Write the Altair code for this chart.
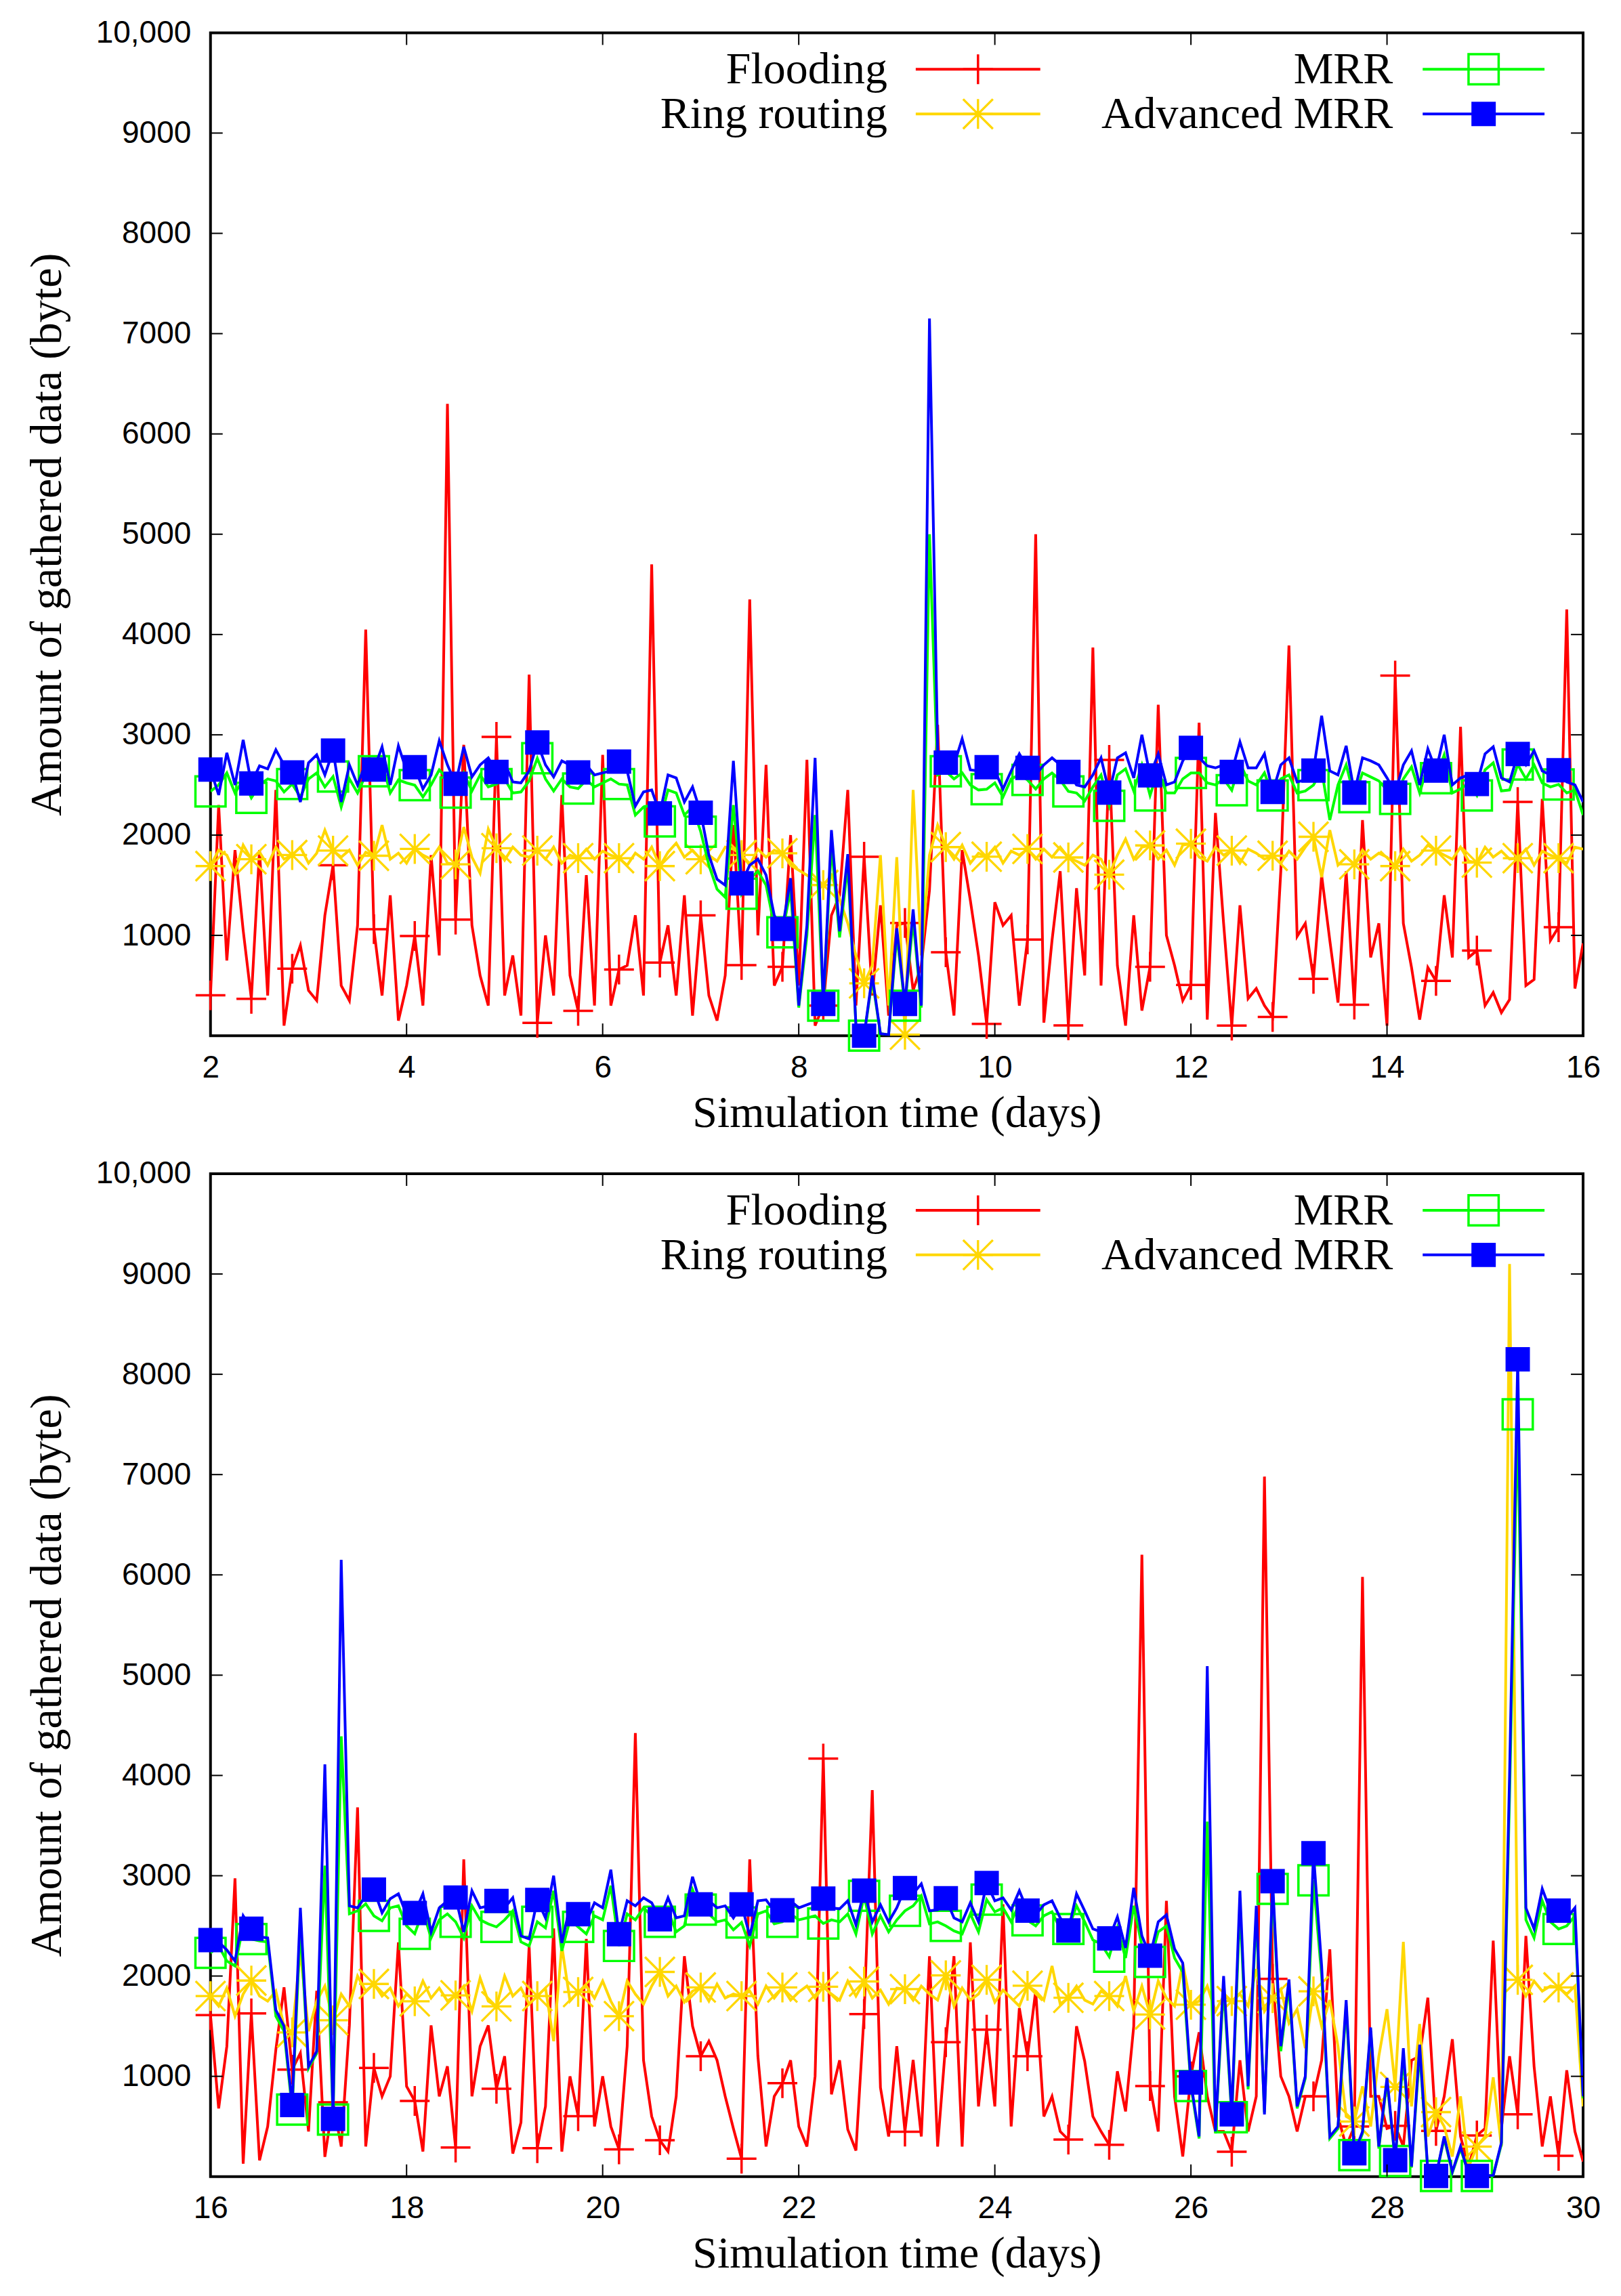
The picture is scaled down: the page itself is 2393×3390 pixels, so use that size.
import altair as alt
import pandas as pd

STEP_HOURS = 2      # sampling interval of the traces (hours)
MARK_EVERY = 5      # a marker on every 5th sample (every 10 hours)

SERIES = ["Flooding", "Ring routing", "MRR", "Advanced MRR"]
COLORS = ["#ff0000", "#ffd700", "#00ff00", "#0000ff"]

# ---------------- top panel: days 2 - 16 ----------------
top_flooding = [
    402, 2300, 750, 1850, 1050, 368, 1850, 400, 2450, 100,
    667, 900, 450, 350, 1200, 1700, 500, 350, 1100, 4050,
    1062, 400, 1400, 150, 500, 993, 300, 1800, 800, 6300,
    1158, 2900, 1100, 600, 300, 2979, 400, 800, 200, 3600,
    127, 1000, 400, 2400, 600, 247, 1600, 300, 2800, 300,
    660, 700, 1200, 400, 4700, 728, 1100, 400, 1400, 200,
    1199, 400, 150, 600, 2100, 704, 4350, 1000, 2700, 500,
    687, 2000, 500, 2750, 100, 300, 1200, 1400, 2450, 300,
    1784, 400, 1300, 200, 1100, 1124, 450, 700, 1450, 3100,
    832, 200, 1850, 1350, 800, 117, 1330, 1100, 1200, 300,
    959, 5000, 130, 950, 1640, 103, 1470, 600, 3870, 500,
    2749, 700, 100, 1200, 250, 687, 3300, 1000, 700, 350,
    505, 3120, 160, 2220, 1120, 100, 1300, 370, 470, 300,
    186, 1640, 3890, 990, 1120, 567, 1600, 950, 330, 1640,
    309, 2150, 780, 1120, 100, 3591, 1120, 680, 160, 680,
    546, 1400, 780, 3080, 780, 849, 300, 430, 230, 360,
    2330, 500, 560, 2360, 950, 1082, 4250, 470, 920,
]
top_ring = [
    1691, 1850, 1800, 1620, 1900, 1759, 1830, 1700, 1880, 1760,
    1801, 1880, 1720, 1820, 2050, 1845, 1780, 1850, 1700, 1830,
    1794, 2100, 1760, 1820, 1720, 1862, 1800, 1760, 1880, 1720,
    1708, 2080, 1780, 1620, 2060, 1869, 1750, 1880, 1800, 1780,
    1845, 1760, 1880, 1720, 1800, 1770, 1860, 1760, 1840, 1800,
    1770, 1700, 1820, 1760, 1880, 1691, 1830, 1920, 1780, 1850,
    1759, 1800, 1740, 1880, 1860, 1801, 1700, 1860, 1780, 1850,
    1818, 1700, 1650, 1600, 1550, 1502, 1600, 1360, 1120, 800,
    522, 700, 1800, 300, 1780, 10, 2450, 800, 1800, 2100,
    1880, 1760, 1900, 1720, 1820, 1784, 1880, 1720, 1840, 1800,
    1862, 1760, 1860, 1780, 1880, 1777, 1740, 1700, 1800, 1760,
    1605, 1800, 1960, 1760, 1880, 1897, 1760, 1850, 1700, 1900,
    1914, 1780, 1740, 1880, 1800, 1845, 1720, 1860, 1820, 1760,
    1794, 1720, 1840, 1760, 1880, 1983, 1580, 2050, 1700, 1780,
    1708, 1850, 1760, 1820, 1780, 1691, 1860, 1740, 1800, 1900,
    1845, 1800, 1760, 1880, 1740, 1725, 1880, 1780, 1840, 1760,
    1770, 1860, 1700, 1840, 1800, 1770, 1720, 1880, 1860,
]
top_mrr = [
    2436, 2500, 2620, 2420, 2550, 2371, 2500, 2560, 2540, 2430,
    2509, 2380, 2560, 2620, 2480, 2584, 2280, 2560, 2420, 2600,
    2636, 2720, 2420, 2550, 2520, 2498, 2380, 2500, 2650, 2560,
    2423, 2620, 2440, 2600, 2480, 2509, 2560, 2420, 2430, 2540,
    2766, 2560, 2440, 2560, 2480, 2464, 2550, 2480, 2520, 2560,
    2509, 2500, 2200, 2280, 2300, 2137, 2450, 2420, 2200, 2280,
    2034, 1700, 1460, 1380, 2300, 1416, 1560, 1640, 1500, 1100,
    1031, 1450, 280, 1000, 2200, 299, 1900, 980, 1700, 100,
    0, 560, 20, 10, 1000, 299, 1150, 280, 5000, 2600,
    2636, 2560, 2620, 2500, 2450, 2457, 2520, 2380, 2560, 2600,
    2550, 2460, 2560, 2620, 2550, 2436, 2420, 2340, 2480, 2600,
    2292, 2600, 2660, 2440, 2700, 2395, 2650, 2420, 2420, 2560,
    2619, 2620, 2520, 2500, 2560, 2447, 2720, 2540, 2500, 2620,
    2395, 2560, 2600, 2420, 2440, 2498, 2650, 2150, 2500, 2700,
    2378, 2620, 2580, 2540, 2450, 2361, 2560, 2680, 2420, 2700,
    2567, 2800, 2420, 2460, 2520, 2395, 2650, 2720, 2440, 2450,
    2704, 2560, 2700, 2520, 2480, 2505, 2420, 2450, 2200,
]
top_adv = [
    2653, 2400, 2820, 2500, 2950, 2515, 2690, 2660, 2850, 2700,
    2625, 2330, 2720, 2800, 2600, 2842, 2330, 2700, 2500, 2720,
    2653, 2880, 2500, 2890, 2640, 2677, 2460, 2600, 2940, 2700,
    2512, 2880, 2580, 2700, 2770, 2629, 2720, 2530, 2520, 2640,
    2924, 2700, 2580, 2740, 2700, 2625, 2700, 2600, 2620, 2640,
    2732, 2640, 2290, 2430, 2450, 2216, 2600, 2570, 2330, 2480,
    2223, 1800, 1560, 1500, 2740, 1519, 1700, 1760, 1600, 1200,
    1065, 1570, 300, 1100, 2770, 316, 2050, 1040, 1810, 100,
    0, 600, 20, 10, 1070, 316, 1260, 300, 7150, 2840,
    2722, 2700, 2960, 2650, 2640, 2677, 2640, 2460, 2640, 2810,
    2670, 2600, 2700, 2770, 2700, 2629, 2500, 2480, 2600, 2770,
    2423, 2770, 2820, 2570, 3000, 2595, 2810, 2500, 2530, 2740,
    2869, 2770, 2690, 2670, 2700, 2629, 2930, 2670, 2670, 2810,
    2430, 2700, 2770, 2530, 2550, 2643, 3190, 2640, 2600, 2890,
    2423, 2770, 2740, 2700, 2570, 2423, 2700, 2840, 2500, 2860,
    2643, 3000, 2500, 2570, 2600, 2509, 2810, 2880, 2570, 2530,
    2808, 2700, 2840, 2640, 2600, 2646, 2530, 2500, 2330,
]

# ---------------- bottom panel: days 16 - 30 ----------------
bot_flooding = [
    1610, 680, 1300, 2974, 128, 1628, 162, 500, 1266, 1887,
    1066, 1232, 450, 1853, 197, 741, 300, 1508, 3681, 300,
    1083, 800, 1000, 2336, 900, 755, 250, 1508, 800, 1100,
    290, 3164, 800, 1300, 1508, 876, 1200, 230, 540, 2301,
    283, 700, 2474, 250, 1000, 603, 2370, 500, 1000, 500,
    272, 1300, 4423, 1160, 600, 362, 250, 800, 2198, 1500,
    1200, 1350, 1160, 800, 480, 179, 3164, 1200, 300, 800,
    931, 1160, 500, 300, 1000, 4169, 820, 1160, 470, 260,
    1621, 3854, 887, 400, 1300, 448, 1163, 400, 2198, 300,
    1341, 2198, 300, 2336, 700, 1466, 700, 2715, 500, 1680,
    1200, 1853, 600, 800, 450, 369, 1500, 1150, 600, 450,
    317, 1050, 650, 1500, 6200, 903, 450, 2750, 800, 200,
    1000, 1439, 800, 450, 450, 248, 1160, 450, 800, 6980,
    1972, 1000, 800, 450, 800, 800, 1160, 2267, 600, 300,
    500, 5980, 800, 800, 480, 507, 300, 1160, 1200, 1784,
    455, 800, 1370, 400, 100, 410, 480, 2353, 480, 1200,
    621, 2400, 1100, 300, 800, 207, 1060, 450, 150,
]
bot_ring = [
    1800, 1700, 1880, 1600, 1820, 1955, 1800, 1750, 1850, 1500,
    1438, 2250, 1450, 1750, 1900, 1559, 1820, 1700, 2000, 1850,
    1921, 1800, 1880, 1700, 1820, 1748, 1950, 1780, 1880, 1750,
    1807, 1900, 1650, 1980, 1750, 1697, 2000, 1800, 1880, 1720,
    1800, 1880, 1350, 2300, 1750, 1841, 1900, 1780, 1950, 1750,
    1600, 1950, 1820, 1720, 1900, 2041, 1800, 1900, 1740, 1850,
    1886, 1750, 1920, 1780, 1820, 1800, 1850, 1720, 1900, 1780,
    1886, 1760, 1840, 1900, 1780, 1893, 1820, 1760, 1950, 1800,
    1945, 1780, 1860, 1720, 1880, 1869, 1760, 1900, 1820, 1760,
    2007, 1700, 1880, 1760, 1820, 1962, 1740, 1860, 1780, 1700,
    1903, 1850, 1760, 2100, 1720, 1783, 1900, 1760, 1720, 1850,
    1800, 1700, 2000, 1650, 1900, 1617, 1950, 1780, 1700, 2125,
    1714, 1750, 1900, 1650, 1800, 1750, 1820, 1700, 2068, 1650,
    1780, 1870, 1530, 1670, 1281, 1847, 1500, 1760, 1300, 600,
    550, 900, 500, 1200, 1669, 894, 2341, 700, 1521, 400,
    643, 500, 200, 800, 100, 300, 400, 990, 300, 9100,
    1962, 1800, 1950, 1850, 1900, 1886, 1820, 1900, 700,
]
bot_mrr = [
    2231, 2300, 2150, 2100, 2500, 2369, 2350, 2340, 1600, 1450,
    669, 2500, 1080, 1230, 3100, 569, 4390, 2620, 2650, 2720,
    2600, 2550, 2680, 2700, 2500, 2421, 2650, 2380, 2560, 2620,
    2541, 2380, 2700, 2560, 2520, 2490, 2560, 2650, 2340, 2300,
    2541, 2480, 2850, 2250, 2560, 2490, 2420, 2600, 2560, 2900,
    2300, 2620, 2560, 2680, 2600, 2541, 2650, 2440, 2500, 2860,
    2662, 2620, 2540, 2560, 2460, 2534, 2300, 2620, 2650, 2520,
    2541, 2620, 2560, 2580, 2600, 2524, 2560, 2540, 2620, 2420,
    2800, 2420, 2600, 2440, 2560, 2650, 2700, 2800, 2520, 2540,
    2500, 2450, 2420, 2620, 2440, 2762, 2640, 2680, 2540, 2720,
    2555, 2500, 2600, 2640, 2470, 2469, 2700, 2540, 2360, 2320,
    2193, 2480, 2180, 2700, 2300, 2141, 2440, 2500, 2180, 2040,
    903, 380, 3540, 430, 1900, 593, 2700, 870, 2600, 640,
    2869, 1250, 1900, 680, 980, 2955, 2000, 380, 480, 1700,
    214, 430, 1450, 280, 950, 155, 1200, 90, 1250, 40,
    7, 380, 40, 280, 20, 7, 10, 10, 320, 3800,
    7600, 2560, 2380, 2750, 2540, 2469, 2500, 2600, 780,
]
bot_adv = [
    2359, 2340, 2260, 2150, 2600, 2472, 2390, 2380, 1660, 1500,
    714, 2680, 1100, 1250, 4110, 576, 6150, 2700, 2680, 2800,
    2862, 2630, 2770, 2820, 2610, 2628, 2820, 2440, 2680, 2750,
    2783, 2440, 2850, 2680, 2700, 2748, 2680, 2780, 2400, 2370,
    2759, 2580, 3000, 2330, 2700, 2617, 2540, 2730, 2680, 3060,
    2417, 2750, 2700, 2780, 2730, 2566, 2780, 2580, 2600, 2990,
    2714, 2750, 2680, 2700, 2580, 2714, 2400, 2750, 2760, 2650,
    2655, 2750, 2680, 2710, 2740, 2772, 2680, 2670, 2750, 2510,
    2852, 2540, 2710, 2540, 2680, 2876, 2820, 2920, 2650, 2660,
    2776, 2580, 2540, 2730, 2540, 2928, 2750, 2780, 2660, 2850,
    2652, 2610, 2710, 2750, 2580, 2455, 2820, 2650, 2470, 2440,
    2376, 2590, 2280, 2880, 2400, 2203, 2540, 2610, 2270, 2130,
    939, 400, 5090, 450, 2000, 621, 2850, 900, 2700, 620,
    2946, 1300, 1965, 700, 1000, 3224, 2100, 400, 500, 1760,
    233, 450, 1487, 300, 985, 164, 1280, 100, 1316, 50,
    7, 400, 50, 300, 20, 7, 10, 10, 340, 4000,
    8150, 2680, 2470, 2870, 2650, 2652, 2580, 2680, 800,
]

y_tick_values = [1000, 2000, 3000, 4000, 5000, 6000, 7000, 8000, 9000]
y_label_values = [1000, 2000, 3000, 4000, 5000, 6000, 7000, 8000, 9000, 10000]
top_x_ticks = [2, 4, 6, 8, 10, 12, 14, 16]
bot_x_ticks = [16, 18, 20, 22, 24, 26, 28, 30]

W, H = 2028, 1482
SERIF = "Liberation Serif"
SANS = "Liberation Sans"
LINE_W = 4

PLUS = "M-1,0L1,0M0,-1L0,1"
STAR = "M-1,0L1,0M0,-1L0,1M-1,-1L1,1M-1,1L1,-1"
MARKERS = [
    dict(shape=PLUS, size=1936, filled=False, strokeWidth=3.5),
    dict(shape=STAR, size=1936, filled=False, strokeWidth=3.3),
    dict(shape="square", size=1980, filled=False, strokeWidth=3.5),
    dict(shape="square", size=1296, filled=True, strokeWidth=0),
]
# legend layout (pixels inside the plot area)
LEG_TEXT_X = [1000, 1000, 1747, 1747]
LEG_LINE_X = [(1042, 1226), (1042, 1226), (1791, 1971), (1791, 1971)]
LEG_ROW_Y = [54, 120, 54, 120]


def panel_frame(start, lists):
    rows = []
    for name, vals in zip(SERIES, lists):
        for i, v in enumerate(vals):
            rows.append({"t": start + i * STEP_HOURS / 24.0, "v": v, "s": name,
                         "mk": 1 if i % MARK_EVERY == 0 else 0})
    return pd.DataFrame(rows)


def panel(df, x0, x1, xticks):
    xs = alt.Scale(domain=[x0, x1], nice=False, zero=False)
    ys = alt.Scale(domain=[0, 10000], nice=False, zero=False)
    xaxis = alt.Axis(values=xticks, format="d", title="Simulation time (days)",
                     labelFont=SANS, labelFontSize=46, labelColor="black",
                     labelPadding=25, labelFlush=False, labelOverlap=False,
                     ticks=False, tickSize=0, domain=False, grid=False,
                     titleFont=SERIF, titleFontSize=66, titleFontWeight="normal",
                     titleColor="black", titlePadding=12)
    yaxis = alt.Axis(values=y_label_values, format="d",
                     labelExpr="datum.value == 10000 ? '10,000' : datum.label",
                     title="Amount of gathered data (byte)",
                     labelFont=SANS, labelFontSize=46, labelColor="black",
                     labelPadding=29, labelFlush=False, labelOverlap=False,
                     ticks=False, tickSize=0, domain=False, grid=False,
                     titleFont=SERIF, titleFontSize=66, titleFontWeight="normal",
                     titleColor="black", titlePadding=38)
    xenc = alt.X("t:Q", scale=xs, axis=xaxis)
    yenc = alt.Y("v:Q", scale=ys, axis=yaxis)

    layers = []
    for name, col, mk in zip(SERIES, COLORS, MARKERS):
        base = alt.Chart(df).transform_filter(alt.datum.s == name)
        layers.append(base.mark_line(color=col, strokeWidth=LINE_W, clip=True)
                      .encode(x=xenc, y=yenc, order="t:Q"))
        layers.append(base.transform_filter(alt.datum.mk == 1)
                      .mark_point(color=col, opacity=1, **mk)
                      .encode(x=xenc, y=yenc))

    # inward tick marks on all four sides (same fields/scales as the data)
    yt = pd.DataFrame({"v": y_tick_values})
    xt = pd.DataFrame({"t": xticks[1:-1]})
    layers.append(alt.Chart(yt).mark_rule(color="black", strokeWidth=2)
                  .encode(y=yenc, x=alt.value(0), x2=alt.value(18)))
    layers.append(alt.Chart(yt).mark_rule(color="black", strokeWidth=2)
                  .encode(y=yenc, x=alt.value(W - 18), x2=alt.value(W)))
    layers.append(alt.Chart(xt).mark_rule(color="black", strokeWidth=2)
                  .encode(x=xenc, y=alt.value(H - 18), y2=alt.value(H)))
    layers.append(alt.Chart(xt).mark_rule(color="black", strokeWidth=2)
                  .encode(x=xenc, y=alt.value(0), y2=alt.value(18)))

    one = pd.DataFrame({"z": [0]})
    for name, col, mk, tx, (lx1, lx2), ly in zip(SERIES, COLORS, MARKERS,
                                                   LEG_TEXT_X, LEG_LINE_X, LEG_ROW_Y):
        layers.append(alt.Chart(one).mark_text(align="right", baseline="alphabetic",
                                               font=SERIF, fontSize=66, color="black")
                      .encode(x=alt.value(tx), y=alt.value(ly + 21), text=alt.value(name)))
        layers.append(alt.Chart(one).mark_rule(color=col, strokeWidth=LINE_W)
                      .encode(x=alt.value(lx1), x2=alt.value(lx2), y=alt.value(ly)))
        layers.append(alt.Chart(one).mark_point(color=col, opacity=1, **mk)
                      .encode(x=alt.value((lx1 + lx2) / 2), y=alt.value(ly)))

    return alt.layer(*layers).properties(width=W, height=H)


top = panel(panel_frame(2, [top_flooding, top_ring, top_mrr, top_adv]), 2, 16, top_x_ticks)
bot = panel(panel_frame(16, [bot_flooding, bot_ring, bot_mrr, bot_adv]), 16, 30, bot_x_ticks)

chart = (alt.vconcat(top, bot, spacing=30)
         .properties(padding={"left": 26, "top": 14, "right": 20, "bottom": 10},
                     background="white")
         .configure_view(stroke="black", strokeWidth=4))

chart.save("out.html", embed_options={"renderer": "svg", "actions": False})
